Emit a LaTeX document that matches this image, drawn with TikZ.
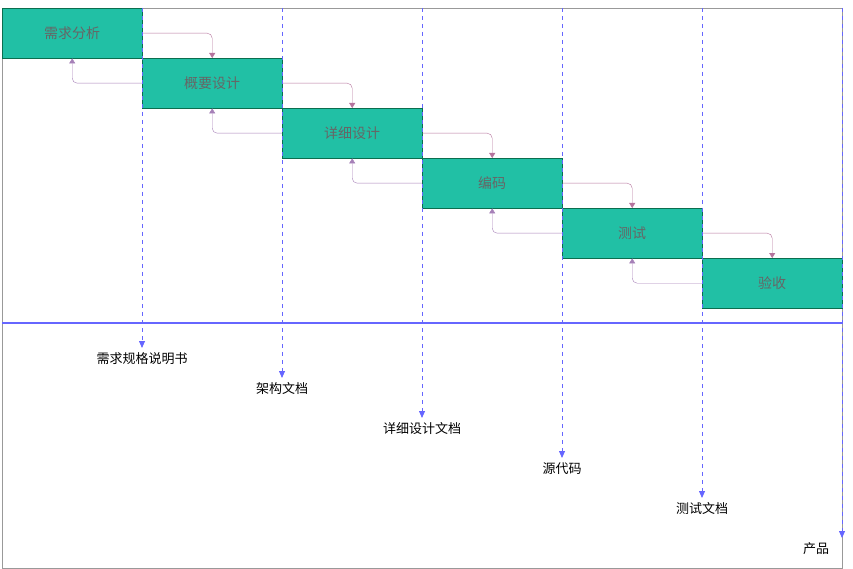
\documentclass[tikz,border=0pt]{standalone}
\usepackage{fontspec}
\setmainfont{Noto Sans CJK SC}
\usetikzlibrary{arrows.meta}
\definecolor{boxg}{HTML}{21C0A5}
\definecolor{boxd}{HTML}{0B6E4F}
\definecolor{fwd}{HTML}{B5739D}
\definecolor{bwd}{HTML}{A680B8}
\definecolor{blu}{HTML}{6666FF}
\begin{document}
\begin{tikzpicture}[x=1pt,y=-1pt,
  stage/.style={draw=boxd,fill=boxg,minimum width=140pt,minimum height=50pt,inner sep=0pt,text=black!60,font=\fontsize{14}{16}\selectfont,anchor=north west},
  doc/.style={font=\fontsize{13}{15}\selectfont,text=black},
  fa/.style={draw=fwd,-{Triangle[length=5pt,width=6pt]},rounded corners=5pt},
  ba/.style={draw=bwd,-{Triangle[length=5pt,width=6pt]},rounded corners=5pt},
  dl/.style={draw=blu,thick,dashed,dash pattern=on 4pt off 4pt,-{Triangle[length=7pt,width=6pt]}}]
\useasboundingbox (0,0) rectangle (853,569);
\draw[draw=black!40] (2,8) rectangle (842,568);
\foreach \i/\t in {0/需求分析,1/概要设计,2/详细设计,3/编码,4/测试,5/验收}{
  \node[stage] (s\i) at ({2+140*\i},{8+50*\i}) {\t};
}
\foreach \i/\j in {0/1,1/2,2/3,3/4,4/5}{
  \draw[fa] (s\i.east) -| (s\j.north);
  \draw[ba] (s\j.west) -| (s\i.south);
}
\draw[draw=blu,line width=2.5pt] (2,323) -- (842,323);
\coordinate (e1) at (142,348); \coordinate (e2) at (282,378);
\coordinate (e3) at (422,418); \coordinate (e4) at (562,458);
\coordinate (e5) at (702,498); \coordinate (e6) at (842,538);
\foreach \k in {1,...,6}{
  \pgfmathtruncatemacro\xx{2+140*\k}
  \draw[dl] (\xx,8) -- (e\k);
}
\node[doc] (d1) at (142,359) {需求规格说明书};
\node[doc] (d2) at (282,389) {架构文档};
\node[doc] (d3) at (422,429) {详细设计文档};
\node[doc] (d4) at (562,469) {源代码};
\node[doc] (d5) at (702,509) {测试文档};
\node[doc] (d6) at (816,549) {产品};
\end{tikzpicture}
\end{document}
